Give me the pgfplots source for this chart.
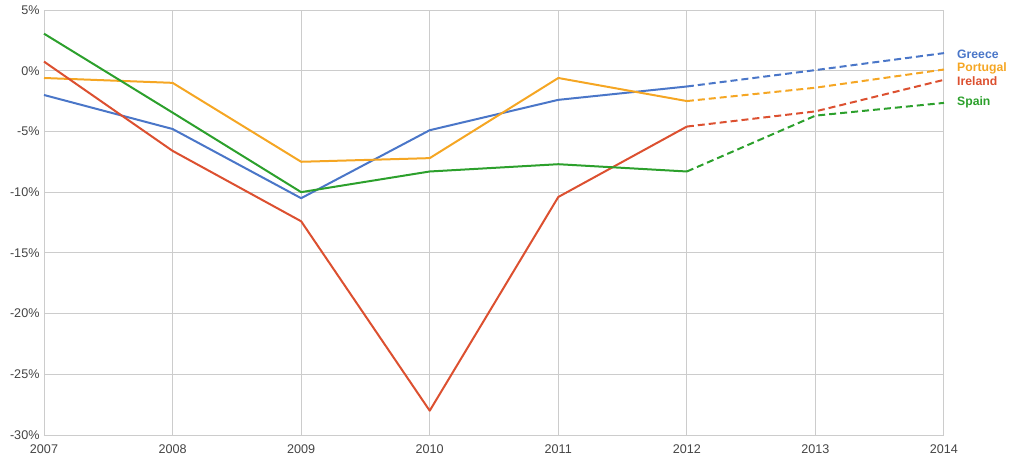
\documentclass[border=0pt]{standalone}
\usepackage{pgfplots}
\pgfplotsset{compat=1.18}
\usepackage{fontspec}
\setmainfont{Liberation Sans}
\usetikzlibrary{calc}
\definecolor{cgreece}{HTML}{4A76C8}
\definecolor{cportugal}{HTML}{F5A623}
\definecolor{cireland}{HTML}{DC5030}
\definecolor{cspain}{HTML}{2CA02C}
\definecolor{gridc}{HTML}{CCCCCC}
\definecolor{tickc}{HTML}{444444}
\begin{document}
\begin{tikzpicture}
\begin{axis}[
  name=ax,
  scale only axis,
  width=900pt, height=425pt,
  xmin=2007, xmax=2014, ymin=-30, ymax=5,
  xtick={2007,...,2014},
  xticklabels={2007,2008,2009,2010,2011,2012,2013,2014},
  ytick={-30,-25,-20,-15,-10,-5,0,5},
  yticklabels={-30\%,-25\%,-20\%,-15\%,-10\%,-5\%,0\%,5\%},
  grid=major,
  grid style={gridc, line width=0.9pt},
  axis line style={gridc, line width=0.9pt},
  axis x line*=bottom, axis y line*=left,
  tick style={draw=none},
  tick label style={font=\fontsize{12.6}{14}\selectfont, text=tickc},
  xticklabel style={yshift=-6pt},
  yticklabel style={xshift=-1pt},
  clip=false,
  every axis plot/.append style={line width=2pt, line join=round},
]
% Greece
\addplot[cgreece] coordinates {(2007,-2.0) (2008,-4.8) (2009,-10.5) (2010,-4.9) (2011,-2.4) (2012,-1.3)};
\addplot[cgreece, dash pattern=on 7pt off 4pt] coordinates {(2012,-1.3) (2013,0.05) (2014,1.45)};
% Portugal
\addplot[cportugal] coordinates {(2007,-0.6) (2008,-1.0) (2009,-7.5) (2010,-7.2) (2011,-0.6) (2012,-2.5)};
\addplot[cportugal, dash pattern=on 7pt off 4pt] coordinates {(2012,-2.5) (2013,-1.4) (2014,0.1)};
% Ireland
\addplot[cireland] coordinates {(2007,0.75) (2008,-6.6) (2009,-12.4) (2010,-28.0) (2011,-10.4) (2012,-4.6)};
\addplot[cireland, dash pattern=on 7pt off 4pt] coordinates {(2012,-4.6) (2013,-3.35) (2014,-0.75)};
% Spain
\addplot[cspain] coordinates {(2007,3.05) (2008,-3.45) (2009,-10.0) (2010,-8.3) (2011,-7.7) (2012,-8.3)};
\addplot[cspain, dash pattern=on 7pt off 4pt] coordinates {(2012,-8.3) (2013,-3.7) (2014,-2.65)};
% labels
\node[anchor=west, inner sep=0pt, xshift=13pt, text=cgreece, font=\fontsize{12.2}{13}\selectfont\bfseries] at (axis cs:2014,1.35) {Greece};
\node[anchor=west, inner sep=0pt, xshift=13pt, text=cportugal, font=\fontsize{12.2}{13}\selectfont\bfseries] at (axis cs:2014,0.2) {Portugal};
\node[anchor=west, inner sep=0pt, xshift=13pt, text=cireland, font=\fontsize{12.2}{13}\selectfont\bfseries] at (axis cs:2014,-0.9) {Ireland};
\node[anchor=west, inner sep=0pt, xshift=13pt, text=cspain, font=\fontsize{12.2}{13}\selectfont\bfseries] at (axis cs:2014,-2.6) {Spain};
\end{axis}
\path ($(ax.south west)+(-44pt,-29pt)$) rectangle ($(ax.north east)+(65pt,10pt)$);
\end{tikzpicture}
\end{document}
